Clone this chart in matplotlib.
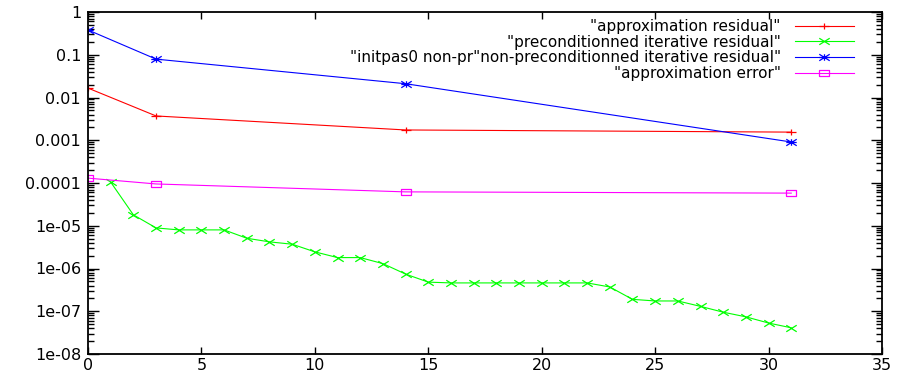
import numpy as np
import matplotlib.pyplot as plt
from matplotlib.path import Path

# iteration numbers
iters_coarse = [0, 3, 14, 31]
iters_fine = list(range(1, 32))

approx_residual = [0.0166, 0.0037, 0.00174, 0.00155]
nonprec_residual = [0.38, 0.079, 0.021, 0.00091]
approx_error = [1.3e-4, 9.5e-5, 6.2e-5, 5.8e-5]
prec_residual = [1.05e-4, 1.8e-5, 8.9e-6, 8.0e-6, 8.0e-6, 8.0e-6, 5.1e-6,
                 4.2e-6, 3.7e-6, 2.45e-6, 1.8e-6, 1.8e-6, 1.3e-6, 7.4e-7,
                 4.8e-7, 4.6e-7, 4.6e-7, 4.6e-7, 4.6e-7, 4.6e-7, 4.6e-7,
                 4.6e-7, 3.7e-7, 1.9e-7, 1.74e-7, 1.74e-7, 1.3e-7, 9.5e-8,
                 7.4e-8, 5.3e-8, 4.1e-8]

labels = ['"approximation residual"',
          '"preconditionned iterative residual"',
          '"initpas0 non-pr"non-preconditionned iterative residual"',
          '"approximation error"']

# gnuplot-like markers, stretched horizontally
a = 1.6
M, L = Path.MOVETO, Path.LINETO
plus_mk = Path([(-a, 0), (a, 0), (0, -1), (0, 1)], [M, L, M, L])
cross_mk = Path([(-a, -1), (a, 1), (-a, 1), (a, -1)], [M, L, M, L])
star_mk = Path([(-a, -1), (a, 1), (-a, 1), (a, -1), (-a, 0), (a, 0), (0, -1), (0, 1)],
               [M, L, M, L, M, L, M, L])
box_mk = Path([(-a, -1), (a, -1), (a, 1), (-a, 1), (-a, -1)], [M, L, L, L, L])

plt.rcParams['font.family'] = 'DejaVu Sans'
fig = plt.figure(figsize=(8.97, 3.74), dpi=100)
ax = fig.add_axes([88 / 897, 20 / 374, 794 / 897, 342 / 374])

kw = dict(linewidth=0.8, markersize=7.5, markerfacecolor='none', markeredgewidth=0.9)
ax.plot(iters_coarse, approx_residual, color='#ff0000', marker=plus_mk,
        markeredgecolor='#ff0000', label=labels[0], **kw)
ax.plot(iters_fine, prec_residual, color='#00ff00', marker=cross_mk,
        markeredgecolor='#00ff00', label=labels[1], **kw)
ax.plot(iters_coarse, nonprec_residual, color='#0000ff', marker=star_mk,
        markeredgecolor='#0000ff', label=labels[2], **kw)
ax.plot(iters_coarse, approx_error, color='#ff00ff', marker=box_mk,
        markeredgecolor='#ff00ff', label=labels[3], **kw)

ax.set_yscale('log')
ax.set_ylim(1e-8, 1)
ax.set_xlim(0, 35)
ax.set_xticks(range(0, 36, 5))
ax.set_yticks([1e-8, 1e-7, 1e-6, 1e-5, 1e-4, 1e-3, 1e-2, 1e-1, 1])
ax.set_yticklabels(['1e-08', '1e-07', '1e-06', '1e-05', '0.0001', '0.001',
                    '0.01', '0.1', '1'])
ax.tick_params(which='both', direction='in', top=True, right=True,
               labelsize=11.5, width=1)
ax.tick_params(axis='y', which='major', length=8, pad=5)
ax.tick_params(axis='y', which='minor', length=4.3)
ax.tick_params(axis='x', which='major', length=5, pad=3)
ax.tick_params(axis='x', which='minor', top=False, bottom=False)
for s in ax.spines.values():
    s.set_linewidth(1.3)

leg = ax.legend(loc='upper right', frameon=False, markerfirst=False,
                fontsize=11, handlelength=3.9, handletextpad=0.9,
                labelspacing=0.05, borderpad=0.45, borderaxespad=0)
leg.set_bbox_to_anchor(((861 - 88) / 794, 1.0), transform=ax.transAxes)

fig.savefig('out.png', dpi=100)
